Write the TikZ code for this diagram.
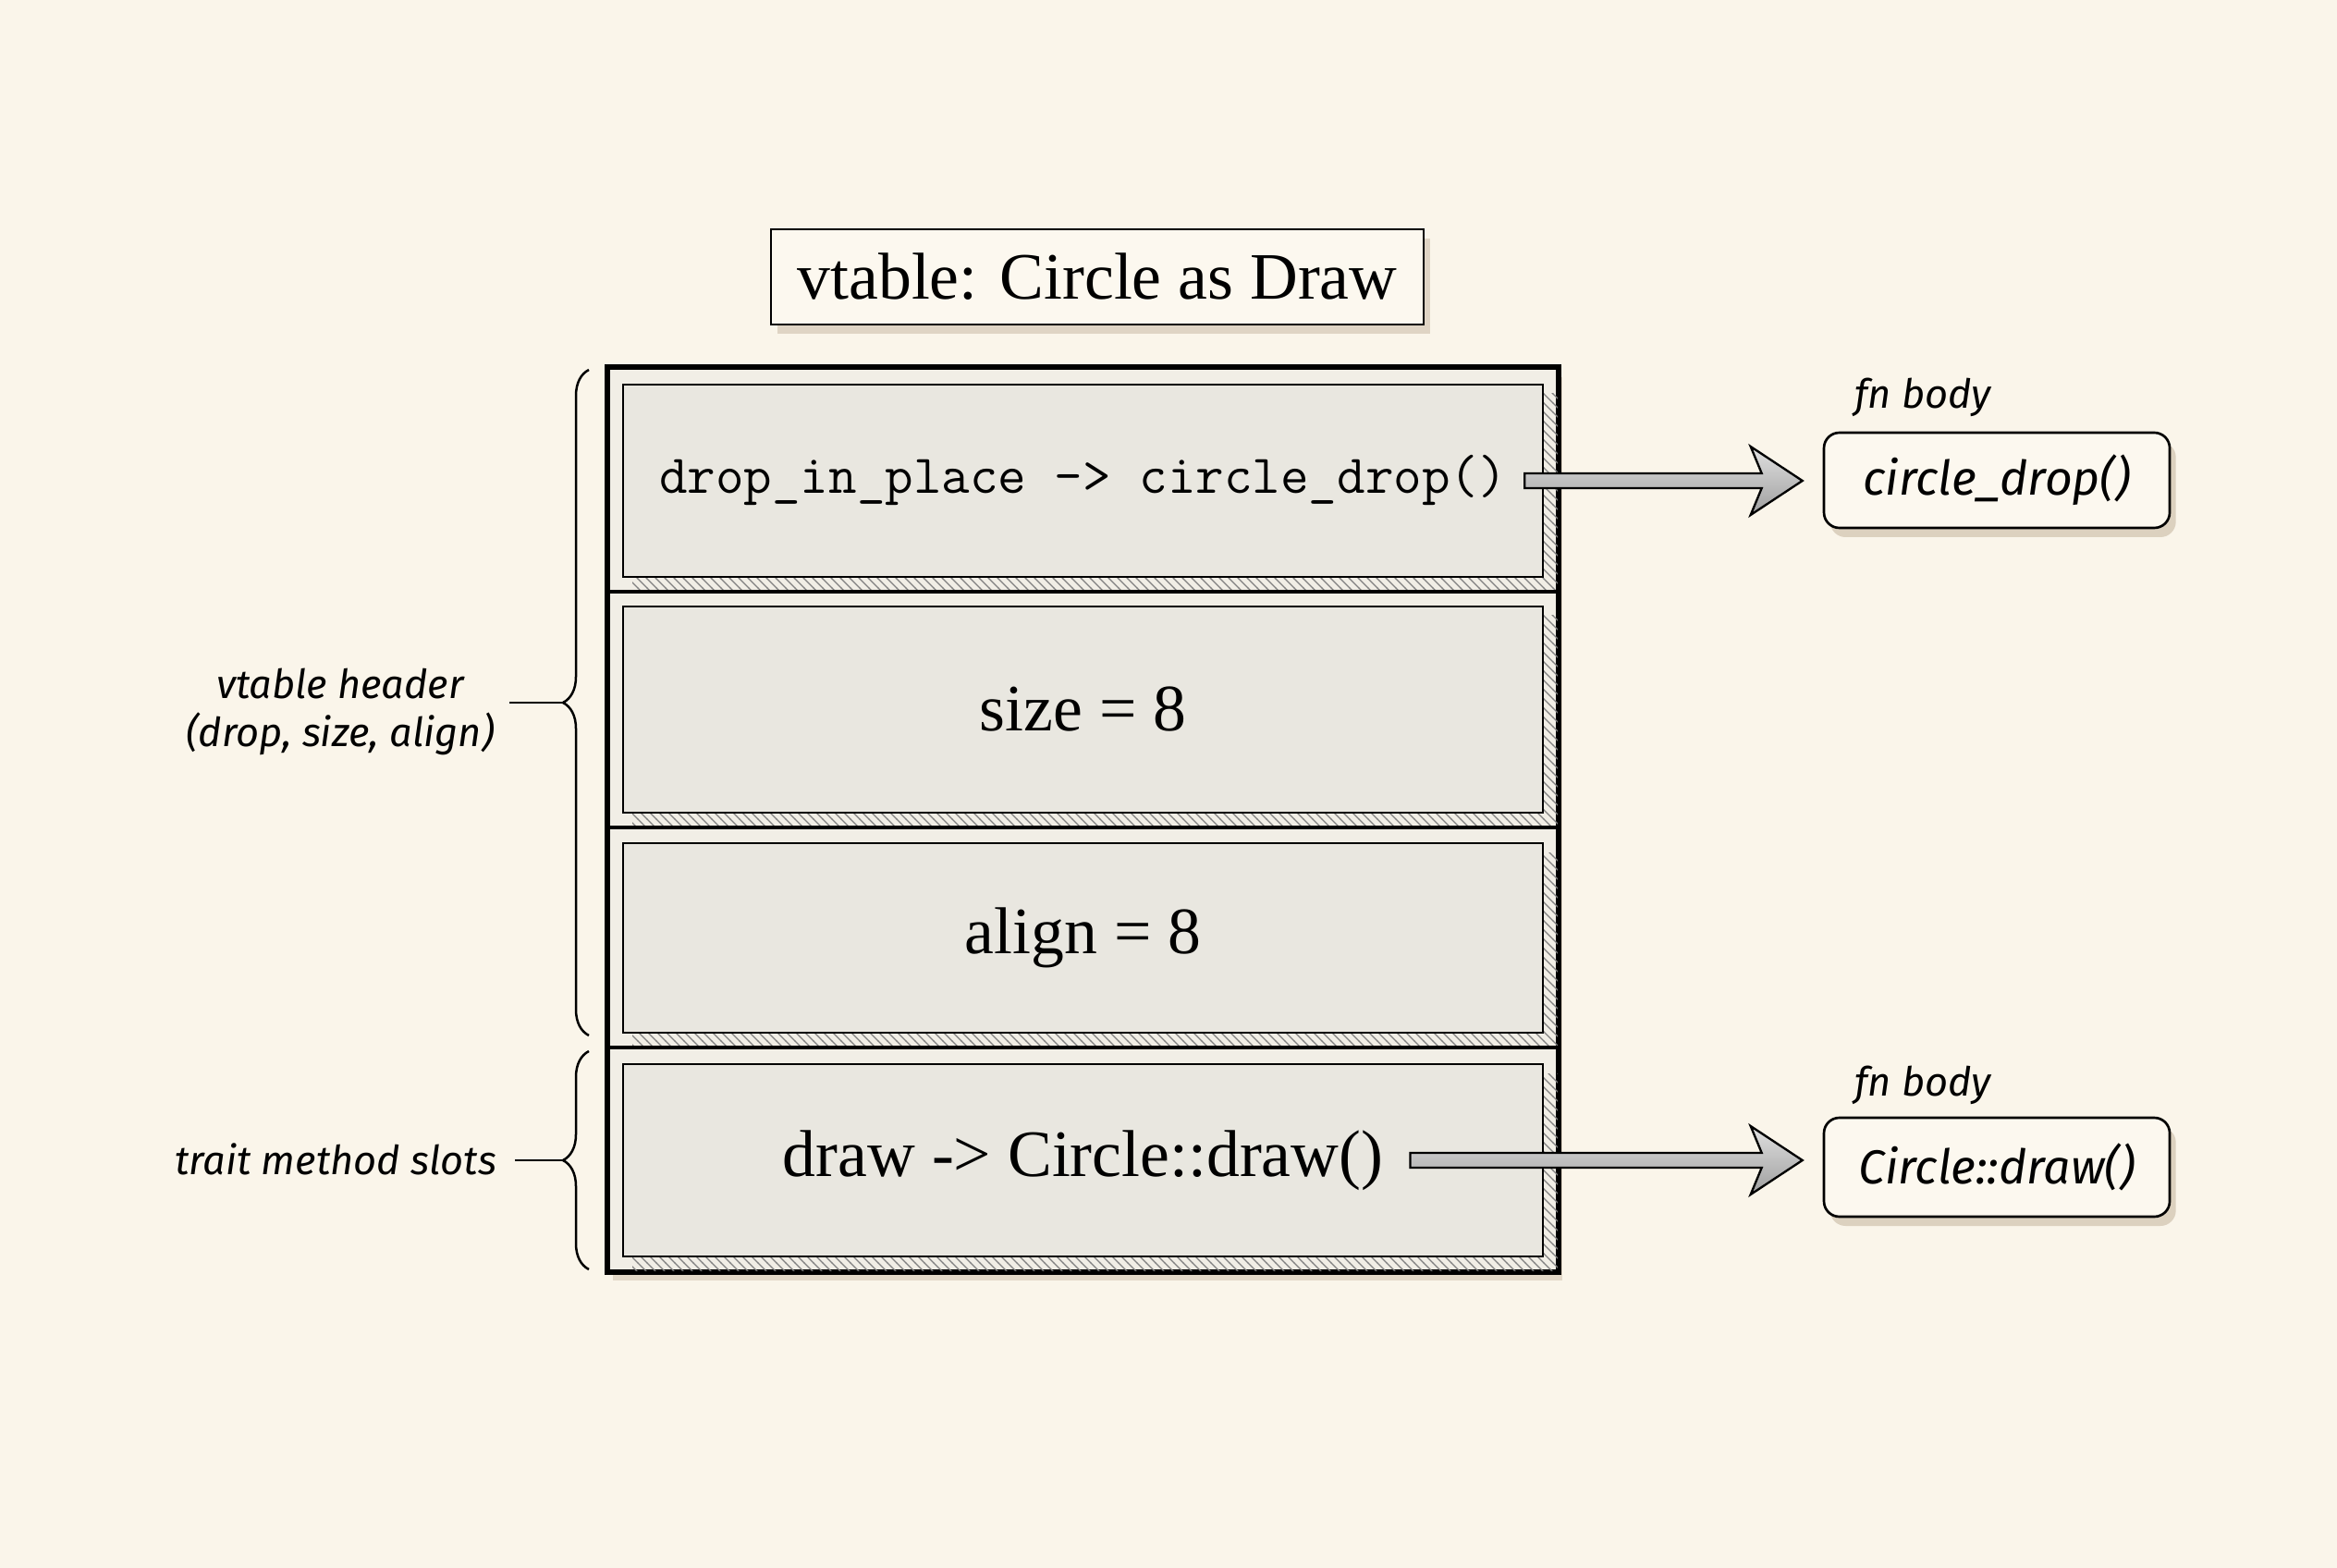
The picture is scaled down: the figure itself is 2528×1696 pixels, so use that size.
\documentclass[tikz,border=0pt]{standalone}
\usepackage{fontspec}
\newfontfamily\hand{Fira Sans}
\newfontfamily\seriffam{Liberation Serif}
\usetikzlibrary{fit,calc,shadows,patterns,decorations.pathreplacing}
\definecolor{bg}{HTML}{FAF5EA}
\definecolor{cellbg}{HTML}{F1EEE6}
\definecolor{innerbg}{HTML}{E9E7E0}
\definecolor{boxbg}{HTML}{FCF8EF}
\definecolor{shadowc}{HTML}{BFAE96}
\newcommand\blkarrow[2]{%
  \draw[blockarrow] ($(#1)+(0,-8)$) -- ($(#2)+(-44,-8)$) -- ($(#2)+(-56,-37)$) -- (#2)
    -- ($(#2)+(-56,37)$) -- ($(#2)+(-44,8)$) -- ($(#1)+(0,8)$) -- cycle;}
\begin{document}
\begin{tikzpicture}[x=0.3pt,y=-0.3pt,
  titlebox/.style={draw=black, line width=0.7pt, fill=boxbg, inner sep=0pt,
    drop shadow={fill=shadowc, opacity=0.45, shadow xshift=2pt, shadow yshift=-3pt}},
  frame/.style={draw=black, line width=1.2pt, fill=cellbg, inner sep=0pt,
    drop shadow={fill=shadowc, opacity=0.4, shadow xshift=1.5pt, shadow yshift=-3pt}},
  slot/.style={draw=black, line width=0.8pt, fill=innerbg, inner sep=0pt},
  hatch/.style={pattern=north west lines, pattern color=black!50},
  serif/.style={font=\seriffam\fontsize{21.5}{25}\selectfont, inner sep=2pt},
  mono/.style={font=\fontsize{17.8}{20}\selectfont\ttfamily, inner sep=2pt},
  fnbox/.style={draw=black, line width=0.8pt, fill=boxbg, rounded corners=5pt, inner sep=0pt,
    drop shadow={fill=shadowc, opacity=0.5, shadow xshift=2pt, shadow yshift=-3pt}},
  handbig/.style={font=\hand\itshape\fontsize{15.5}{18}\selectfont},
  handsmall/.style={font=\hand\itshape\fontsize{13}{15.5}\selectfont, align=center},
  blockarrow/.style={draw=black, line width=0.7pt, top color=black!12, bottom color=black!38, line join=miter},
  bracestyle/.style={draw=black, line width=0.75pt, decorate, decoration={brace, amplitude=8.4pt}},
  lead/.style={draw=black, line width=0.75pt}]
\useasboundingbox (0,0) rectangle (2528,1696);
\fill[bg] (0,0) rectangle (2528,1696);

% title
\node[titlebox, fit={(834,248) (1540,351)}] (title) {};
\node[serif] (titletext) at (title.center) {vtable: Circle as Draw};

% table frame
\node[frame, fit={(658,398) (1685,1375)}] (tbl) {};

% hatched shadows of the slots
\fill[hatch] (684,426) rectangle (1685,640);
\fill[hatch] (684,666) rectangle (1685,895);
\fill[hatch] (684,922) rectangle (1685,1133);
\fill[hatch] (684,1161) rectangle (1685,1375);

% slots
\node[slot, fit={(674,416) (1669,624)}] (s1) {};
\node[slot, fit={(674,656) (1669,879)}] (s2) {};
\node[slot, fit={(674,912) (1669,1117)}] (s3) {};
\node[slot, fit={(674,1151) (1669,1359)}] (s4) {};

\node[mono] (t1) at (s1.center) {drop\_in\_place -> circle\_drop()};
\node[serif] (t2) at (s2.center) {size = 8};
\node[serif] (t3) at (s3.center) {align = 8};
\node[serif] (t4) at (s4.center) {draw -> Circle::draw()};

% frame border and separators
\draw[line width=1.2pt] (tbl.north west) rectangle (tbl.south east);
\draw[line width=1.2pt] (658,640) -- (1685,640);
\draw[line width=1.2pt] (658,895) -- (1685,895);
\draw[line width=1.2pt] (658,1133) -- (1685,1133);

% fn bodies
\node[fnbox, fit={(1973,468) (2347,571)}] (f1) {};
\node[handbig] (f1t) at (f1.center) {circle\_drop()};
\node[handsmall] (f1l) at (2080,430) {fn body};
\node[fnbox, fit={(1973,1209) (2347,1316)}] (f2) {};
\node[handbig] (f2t) at (f2.center) {Circle::draw()};
\node[handsmall] (f2l) at (2080,1174) {fn body};

% arrows
\coordinate (a1s) at ($(t1.east)+(12,0)$);
\coordinate (a1e) at ($(a1s -| f1.west)+(-22,0)$);
\blkarrow{a1s}{a1e}
\coordinate (a2s) at ($(t4.east)+(22,0)$);
\coordinate (a2e) at ($(a2s -| f2.west)+(-22,0)$);
\blkarrow{a2s}{a2e}

% braces
\coordinate (b1top) at (637,400);
\coordinate (b1bot) at (637,1120);
\coordinate (b1tip) at (609,760);
\draw[bracestyle] (b1bot) -- (b1top);
\node[handsmall] (lab1) at (368,770) {vtable header\\(drop, size, align)};
\draw[lead] (b1tip) -- ($(b1tip -| lab1.east)+(4,0)$);

\coordinate (b2top) at (637,1137);
\coordinate (b2bot) at (637,1373);
\coordinate (b2tip) at (609,1255);
\draw[bracestyle] (b2bot) -- (b2top);
\node[handsmall] (lab2) at (363,1254) {trait method slots};
\draw[lead] (b2tip) -- ($(b2tip -| lab2.east)+(8,0)$);
\end{tikzpicture}
\end{document}
